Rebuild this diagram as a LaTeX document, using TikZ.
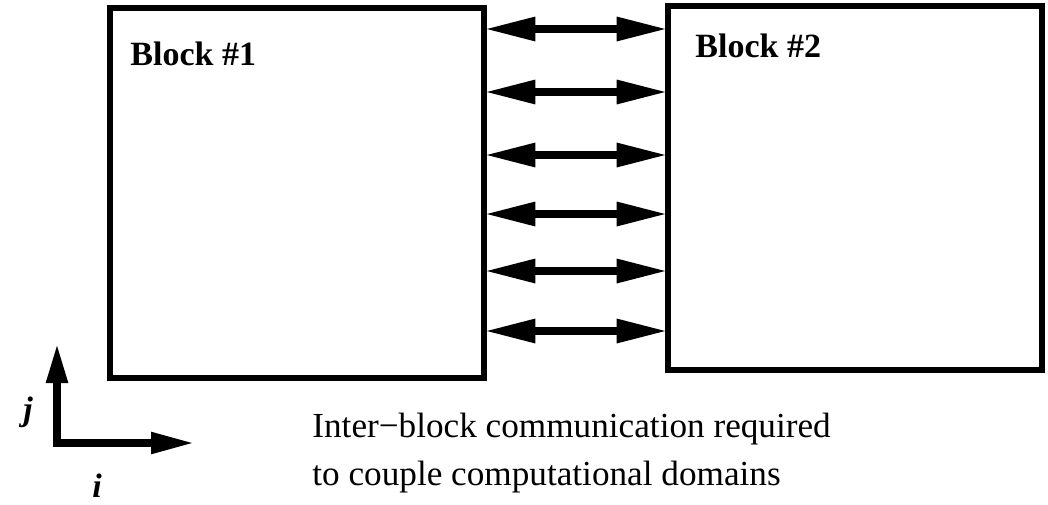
\documentclass[tikz,border=0pt]{standalone}
\usepackage{fontspec}
\setmainfont{Liberation Serif}
\usetikzlibrary{arrows.meta, calc}

\begin{document}
\begin{tikzpicture}[
    x=0.5pt, y=-0.5pt,
    block/.style={rectangle, draw=black, line width=3.3pt, inner sep=0pt},
    label/.style={inner sep=0pt, anchor=base west, font=\fontsize{17}{20}\selectfont\bfseries},
    link/.style={draw, line width=4.4pt, shorten <=-2pt, shorten >=-2pt, {Triangle[length=26pt, width=11pt]}-{Triangle[length=26pt, width=11pt]}},
    axis/.style={draw, line width=4pt, line join=miter, {Triangle[length=20pt, width=10pt]}-{Triangle[length=22pt, width=10pt]}},
    caption/.style={inner sep=0pt, anchor=north west, align=left, font=\fontsize{17.6}{24}\selectfont}
]
\useasboundingbox (0,0) rectangle (1048,504);

% Nodes
\node [block, minimum width=187pt, minimum height=185pt] (b1) at (297,193) {};
\node [block, minimum width=187pt, minimum height=182pt] (b2) at (855,188) {};
\node [label] (t1) at (130,65) {Block \#1};
\node [label] (t2) at (695,57) {Block \#2};
\coordinate (jtip) at (57,343);
\coordinate (orig) at (57,443);
\coordinate (itip) at (195,443);
\node [inner sep=0pt, font=\fontsize{17}{20}\selectfont\bfseries\itshape] (jl) at (28,412) {j};
\node [inner sep=0pt, font=\fontsize{17}{20}\selectfont\bfseries\itshape] (il) at (97,486) {i};
\node [caption] (cap) at (312,413) {Inter−block communication required\\to couple computational domains};

% Connectors
\foreach \y in {29,92,155,214,271,331}
    \path [link] (b1.east |- 0,\y) -- (b2.west |- 0,\y);
\path [axis] (jtip) -- (orig) -- (itip);

\end{tikzpicture}
\end{document}
